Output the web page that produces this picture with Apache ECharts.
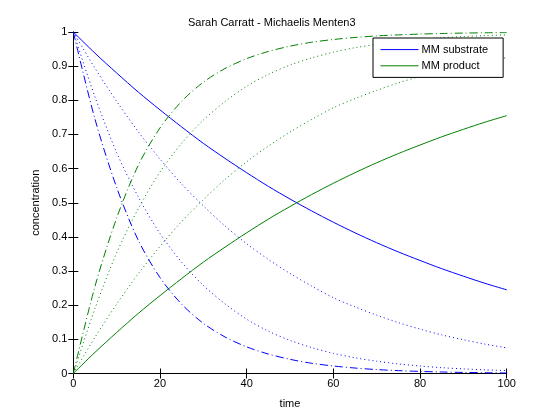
<!DOCTYPE html>
<html>
<head>
<meta charset="utf-8">
<script src="https://cdn.jsdelivr.net/npm/echarts@6/dist/echarts.min.js"></script>
<style>
html,body{margin:0;padding:0;background:#fff;}
#chart{width:560px;height:420px;}
</style>
</head>
<body>
<div id="chart"></div>
<script>
var titleText = 'Sarah Carratt - Michaelis Menten3';
var legendNames = ['MM substrate', 'MM product'];
var xTicks = [0, 20, 40, 60, 80, 100];
var yTicks = [0, 0.1, 0.2, 0.3, 0.4, 0.5, 0.6, 0.7, 0.8, 0.9, 1];
var timePoints = [0, 5, 10, 15, 20, 25, 30, 35, 40, 45, 50, 55, 60, 65, 70, 75, 80, 85, 90, 95, 100];

var substrateSolid   = [1, 0.938, 0.880, 0.824, 0.772, 0.722, 0.674, 0.630, 0.588, 0.548, 0.511, 0.476, 0.443, 0.412, 0.383, 0.356, 0.331, 0.307, 0.285, 0.264, 0.245];
var productSolid     = [0, 0.062, 0.120, 0.176, 0.228, 0.278, 0.326, 0.370, 0.412, 0.452, 0.489, 0.524, 0.557, 0.588, 0.617, 0.644, 0.669, 0.693, 0.715, 0.736, 0.755];
var substrateDotSlow = [1, 0.894, 0.797, 0.708, 0.628, 0.555, 0.491, 0.432, 0.380, 0.334, 0.293, 0.256, 0.222, 0.195, 0.171, 0.149, 0.130, 0.113, 0.099, 0.086, 0.075];
var productDotSlow   = [0, 0.106, 0.203, 0.292, 0.372, 0.445, 0.509, 0.568, 0.620, 0.666, 0.707, 0.744, 0.778, 0.805, 0.829, 0.851, 0.870, 0.887, 0.901, 0.914, 0.925];
var substrateDotFast = [1, 0.810, 0.647, 0.517, 0.410, 0.326, 0.258, 0.204, 0.159, 0.124, 0.097, 0.076, 0.059, 0.046, 0.036, 0.028, 0.022, 0.017, 0.0135, 0.0107, 0.0085];
var productDotFast   = [0, 0.190, 0.353, 0.483, 0.590, 0.674, 0.742, 0.796, 0.841, 0.876, 0.903, 0.924, 0.941, 0.954, 0.964, 0.972, 0.978, 0.983, 0.9865, 0.9893, 0.9915];
var substrateDashDot = [1, 0.745, 0.545, 0.390, 0.281, 0.203, 0.147, 0.107, 0.078, 0.057, 0.0415, 0.030, 0.022, 0.016, 0.0115, 0.0084, 0.0061, 0.0044, 0.0032, 0.0023, 0.0017];
var productDashDot   = [0, 0.255, 0.455, 0.610, 0.719, 0.797, 0.853, 0.893, 0.922, 0.943, 0.9585, 0.970, 0.978, 0.984, 0.9885, 0.9916, 0.9939, 0.9956, 0.9968, 0.9977, 0.9983];

var BLUE = '#0000ff', GREEN = '#008000';
var FONT = 'Liberation Sans, Arial, Helvetica, sans-serif';

function pairs(vals) { return timePoints.map(function (t, i) { return [t, vals[i]]; }); }
function line(name, vals, color, type) {
  return {
    name: name, type: 'line', data: pairs(vals), showSymbol: false, symbol: 'none',
    smooth: 0.3, silent: true, animation: false, color: color,
    lineStyle: { color: color, width: 1, type: type }, itemStyle: { color: color, opacity: 0 }
  };
}

var chart = echarts.init(document.getElementById('chart'), null, { renderer: 'canvas' });
var axisCommon = {
  type: 'value', min: 0,
  axisLine: { show: true, lineStyle: { color: '#000', width: 1 } },
  axisTick: { show: true, inside: true, length: 5, lineStyle: { color: '#000' } },
  splitLine: { show: false }
};
chart.setOption({
  backgroundColor: '#fff',
  animation: false,
  title: {
    text: titleText, left: 183, top: 12,
    textStyle: { fontFamily: FONT, fontSize: 11, fontWeight: 'normal', color: '#000' }
  },
  legend: {
    data: legendNames,
    orient: 'vertical', left: 373, top: 38,
    backgroundColor: '#fff', borderColor: '#000', borderWidth: 1,
    padding: [6, 15, 6, 7], itemGap: 5, itemWidth: 38, itemHeight: 14,
    lineStyle: { width: 1 },
    itemStyle: { opacity: 0 },
    textStyle: { fontFamily: FONT, fontSize: 11, color: '#000', padding: [0, 0, 0, -2] },
    selectedMode: false
  },
  grid: { left: 73.3, right: 53.3, top: 32, bottom: 46.5 },
  xAxis: [
    Object.assign({}, axisCommon, {
      position: 'bottom', max: 100, interval: 20,
      name: 'time', nameLocation: 'middle', nameGap: 25,
      nameTextStyle: { fontFamily: FONT, fontSize: 11, color: '#000' },
      axisLabel: { margin: 5, fontFamily: FONT, fontSize: 11, color: '#000',
        formatter: function (v) { return xTicks.indexOf(v) >= 0 ? String(v) : ''; } }
    }),
    Object.assign({}, axisCommon, {
      position: 'top', max: 100, interval: 20, axisLabel: { show: false }
    })
  ],
  yAxis: [
    Object.assign({}, axisCommon, {
      position: 'left', max: 1, interval: 0.1,
      name: 'concentration', nameLocation: 'middle', nameGap: 27,
      nameTextStyle: { fontFamily: FONT, fontSize: 11, color: '#000' },
      axisLabel: { margin: 6, fontFamily: FONT, fontSize: 11, color: '#000',
        formatter: function (v) {
          var r = Math.round(v * 10) / 10;
          for (var i = 0; i < yTicks.length; i++) if (Math.abs(yTicks[i] - r) < 1e-9) return String(yTicks[i]);
          return '';
        } }
    }),
    Object.assign({}, axisCommon, {
      position: 'right', max: 1, interval: 0.1, axisLabel: { show: false }
    })
  ],
  series: [
    line('MM substrate', substrateSolid, BLUE, 'solid'),
    line('MM product', productSolid, GREEN, 'solid'),
    line('substrate 2', substrateDotSlow, BLUE, [1, 3]),
    line('product 2', productDotSlow, GREEN, [1, 3]),
    line('substrate 3', substrateDotFast, BLUE, [1, 3]),
    line('product 3', productDotFast, GREEN, [1, 3]),
    line('substrate 4', substrateDashDot, BLUE, [8, 3, 1, 3]),
    line('product 4', productDashDot, GREEN, [8, 3, 1, 3])
  ]
});
</script>
</body>
</html>
